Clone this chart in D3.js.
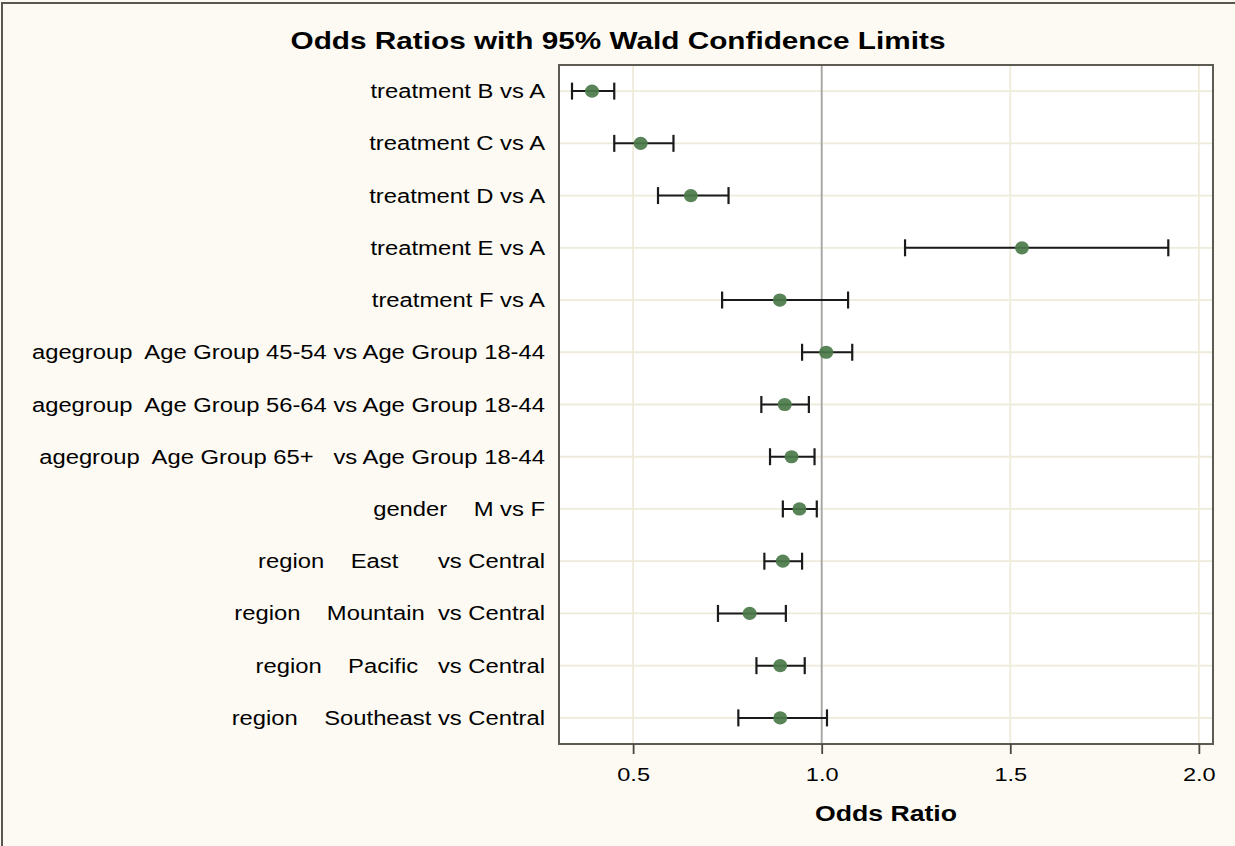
<!DOCTYPE html>
<html>
<head>
<meta charset="utf-8">
<script src="https://cdn.jsdelivr.net/npm/d3@7"></script>
<style>
  html, body { margin: 0; padding: 0; background: #fdfaf3; }
  svg { display: block; }
  text { font-family: "Liberation Sans", Arial, sans-serif; white-space: pre; fill: #000; }
</style>
</head>
<body>
<svg id="chart" width="1235" height="846"></svg>
<script>
// ---------------- data ----------------
const categories = [
  "treatment B vs A",
  "treatment C vs A",
  "treatment D vs A",
  "treatment E vs A",
  "treatment F vs A",
  "agegroup  Age Group 45-54 vs Age Group 18-44",
  "agegroup  Age Group 56-64 vs Age Group 18-44",
  "agegroup  Age Group 65+   vs Age Group 18-44",
  "gender    M vs F",
  "region    East      vs Central",
  "region    Mountain  vs Central",
  "region    Pacific   vs Central",
  "region    Southeast vs Central"
];
const oddsRatio = [0.391, 0.520, 0.653, 1.531, 0.889, 1.012, 0.902, 0.920, 0.941, 0.897, 0.809, 0.890, 0.890];
const lowerCL   = [0.338, 0.450, 0.566, 1.221, 0.736, 0.948, 0.840, 0.863, 0.897, 0.848, 0.725, 0.827, 0.779];
const upperCL   = [0.450, 0.607, 0.753, 1.919, 1.070, 1.081, 0.966, 0.981, 0.987, 0.948, 0.905, 0.955, 1.014];
const xTicks = [0.5, 1.0, 1.5, 2.0];
const xTickLabels = ["0.5", "1.0", "1.5", "2.0"];
const xDomain = [0.3035, 2.0375];
const refValue = 1.0;
const titleText = "Odds Ratios with 95% Wald Confidence Limits";
const xAxisTitle = "Odds Ratio";

// ---------------- layout ----------------
const svg = d3.select("#chart");
const plot = { left: 559, right: 1213, top: 65, bottom: 744 };

const x = d3.scaleLinear().domain(xDomain).range([plot.left, plot.right]);
const y = d3.scaleBand().domain(categories).range([plot.top, plot.bottom]).padding(0);
const yc = d => y(d) + y.bandwidth() / 2;

const rows = categories.map((c, i) => ({ cat: c, or: oddsRatio[i], lo: lowerCL[i], hi: upperCL[i] }));

// background + outer border
svg.append("rect").attr("x", 0).attr("y", 0).attr("width", 1235).attr("height", 846).attr("fill", "#fdfaf3");
svg.append("rect").attr("x", 2).attr("y", 3).attr("width", 1250).attr("height", 860)
  .attr("fill", "none").attr("stroke", "#5a564e").attr("stroke-width", 2);

// plot background
svg.append("rect").attr("x", plot.left).attr("y", plot.top)
  .attr("width", plot.right - plot.left).attr("height", plot.bottom - plot.top).attr("fill", "#ffffff");

// grid lines
const grid = svg.append("g");
grid.selectAll("line.v").data(xTicks).join("line")
  .attr("x1", d => x(d)).attr("x2", d => x(d))
  .attr("y1", plot.top).attr("y2", plot.bottom)
  .attr("stroke", "#eeebda").attr("stroke-width", 1.8);
grid.selectAll("line.h").data(categories).join("line")
  .attr("x1", plot.left).attr("x2", plot.right)
  .attr("y1", d => yc(d)).attr("y2", d => yc(d))
  .attr("stroke", "#eeebda").attr("stroke-width", 1.8);

// reference line
svg.append("line").attr("x1", x(refValue)).attr("x2", x(refValue))
  .attr("y1", plot.top).attr("y2", plot.bottom)
  .attr("stroke", "#a4a4a4").attr("stroke-width", 1.8);

// error bars
const bars = svg.append("g").attr("stroke", "#1a1a1a").attr("stroke-width", 2);
bars.selectAll("line.bar").data(rows).join("line")
  .attr("x1", d => x(d.lo)).attr("x2", d => x(d.hi))
  .attr("y1", d => yc(d.cat)).attr("y2", d => yc(d.cat));
bars.selectAll("line.capl").data(rows).join("line")
  .attr("x1", d => x(d.lo)).attr("x2", d => x(d.lo))
  .attr("y1", d => yc(d.cat) - 8.5).attr("y2", d => yc(d.cat) + 8.5).attr("stroke-width", 2.2);
bars.selectAll("line.caph").data(rows).join("line")
  .attr("x1", d => x(d.hi)).attr("x2", d => x(d.hi))
  .attr("y1", d => yc(d.cat) - 8.5).attr("y2", d => yc(d.cat) + 8.5).attr("stroke-width", 2.2);

// markers
svg.append("g").selectAll("ellipse").data(rows).join("ellipse")
  .attr("cx", d => x(d.or)).attr("cy", d => yc(d.cat)).attr("rx", 7).attr("ry", 6.6)
  .attr("fill", "#4a7a4a").attr("fill-opacity", 0.92);

// frame
svg.append("rect").attr("x", plot.left).attr("y", plot.top)
  .attr("width", plot.right - plot.left).attr("height", plot.bottom - plot.top)
  .attr("fill", "none").attr("stroke", "#5e5b52").attr("stroke-width", 2);

// x axis
const xAxis = svg.append("g").attr("transform", `translate(0,${plot.bottom})`)
  .call(d3.axisBottom(x).tickValues(xTicks).tickFormat((d, i) => xTickLabels[i]).tickSize(10).tickSizeOuter(0));
xAxis.select(".domain").remove();
xAxis.selectAll(".tick line").attr("stroke", "#4a4740").attr("stroke-width", 1.8);
xAxis.selectAll(".tick text")
  .attr("y", null).attr("dy", null)
  .attr("transform", `translate(0,37) scale(1.24,1)`)
  .attr("font-size", "19px").attr("fill", "#111")
  .style("font-family", "'Liberation Sans', Arial, sans-serif");

// y axis labels
const yAxis = svg.append("g").attr("transform", `translate(${plot.left},0)`)
  .call(d3.axisLeft(y).tickSize(0).tickPadding(0));
yAxis.select(".domain").remove();
yAxis.selectAll(".tick text")
  .attr("x", null).attr("dy", null)
  .attr("text-anchor", "end")
  .attr("transform", `translate(-14,7) scale(1.19,1)`)
  .attr("font-size", "20px").attr("fill", "#111")
  .attr("xml:space", "preserve")
  .style("font-family", "'Liberation Sans', Arial, sans-serif");

// title
svg.append("text")
  .attr("transform", `translate(618,49) scale(1.24,1)`)
  .attr("text-anchor", "middle").attr("font-size", "24px").attr("font-weight", "bold")
  .text(titleText);

// x axis title
svg.append("text")
  .attr("transform", `translate(${(plot.left + plot.right) / 2},821) scale(1.24,1)`)
  .attr("text-anchor", "middle").attr("font-size", "21.5px").attr("font-weight", "bold")
  .text(xAxisTitle);
</script>
</body>
</html>
